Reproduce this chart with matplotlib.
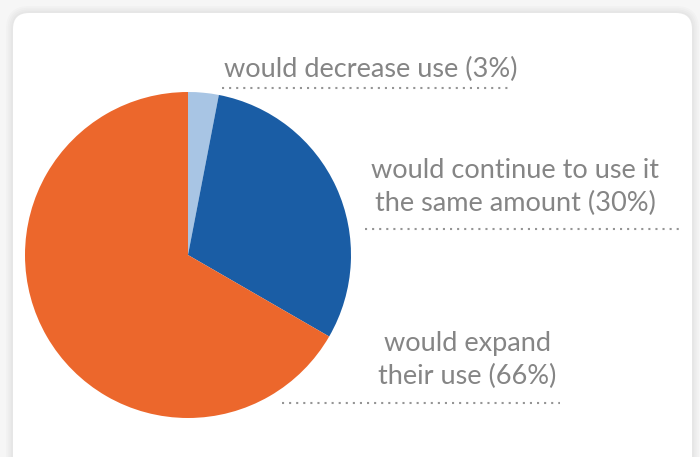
import numpy as np
import matplotlib
matplotlib.use("Agg")
import matplotlib.pyplot as plt
from matplotlib.patches import FancyBboxPatch

# data
labels = ['would decrease use (3%)',
          'would continue to use it\nthe same amount (30%)',
          'would expand\ntheir use (66%)']
values = [3, 30, 66]
colors = ['#a8c5e4', '#1a5da5', '#ec672c']

W, H = 700, 457
fig = plt.figure(figsize=(7, 4.57), dpi=100, facecolor='#f6f6f6')
ax = fig.add_axes([0, 0, 1, 1])

# soft shadow + white card
for i in range(4):
    g = 7 - i * 1.7
    sh = FancyBboxPatch((13 - g, -30 - g), 679 + 2 * g, 474 + 2 * g,
                        boxstyle='round,pad=0,rounding_size=%f' % (16 + g),
                        fc='#000000', ec='none', alpha=0.016, zorder=0)
    ax.add_patch(sh)
card = FancyBboxPatch((13, -30), 679, 474,
                      boxstyle='round,pad=0,rounding_size=16',
                      fc='white', ec='none', zorder=1)
ax.add_patch(card)

ax.pie(values, colors=colors, startangle=90, counterclock=False,
       center=(188, H - 255), radius=163,
       wedgeprops=dict(linewidth=0, zorder=2))

ax.set_xlim(0, W)
ax.set_ylim(0, H)
ax.set_aspect('auto')
ax.axis('off')

txt = dict(color='#858585', fontsize=19.5, family=['Lato', 'DejaVu Sans'],
           fontweight='normal', zorder=3)
ax.text(371, H - 69, labels[0], ha='center', va='center', **txt)
ax.text(515, H - 187, labels[1], ha='center', va='center',
        linespacing=1.42, **txt)
ax.text(467, H - 360, labels[2], ha='center', va='center',
        linespacing=1.42, **txt)

dot = dict(color='#959595', linewidth=1.5, linestyle=(0, (1, 2.4)), zorder=3)
ax.plot([222, 508], [H - 88, H - 88], **dot)
ax.plot([365, 683], [H - 229, H - 229], **dot)
ax.plot([282, 560], [H - 403, H - 403], **dot)

fig.savefig('out.png', dpi=100, facecolor=fig.get_facecolor())
